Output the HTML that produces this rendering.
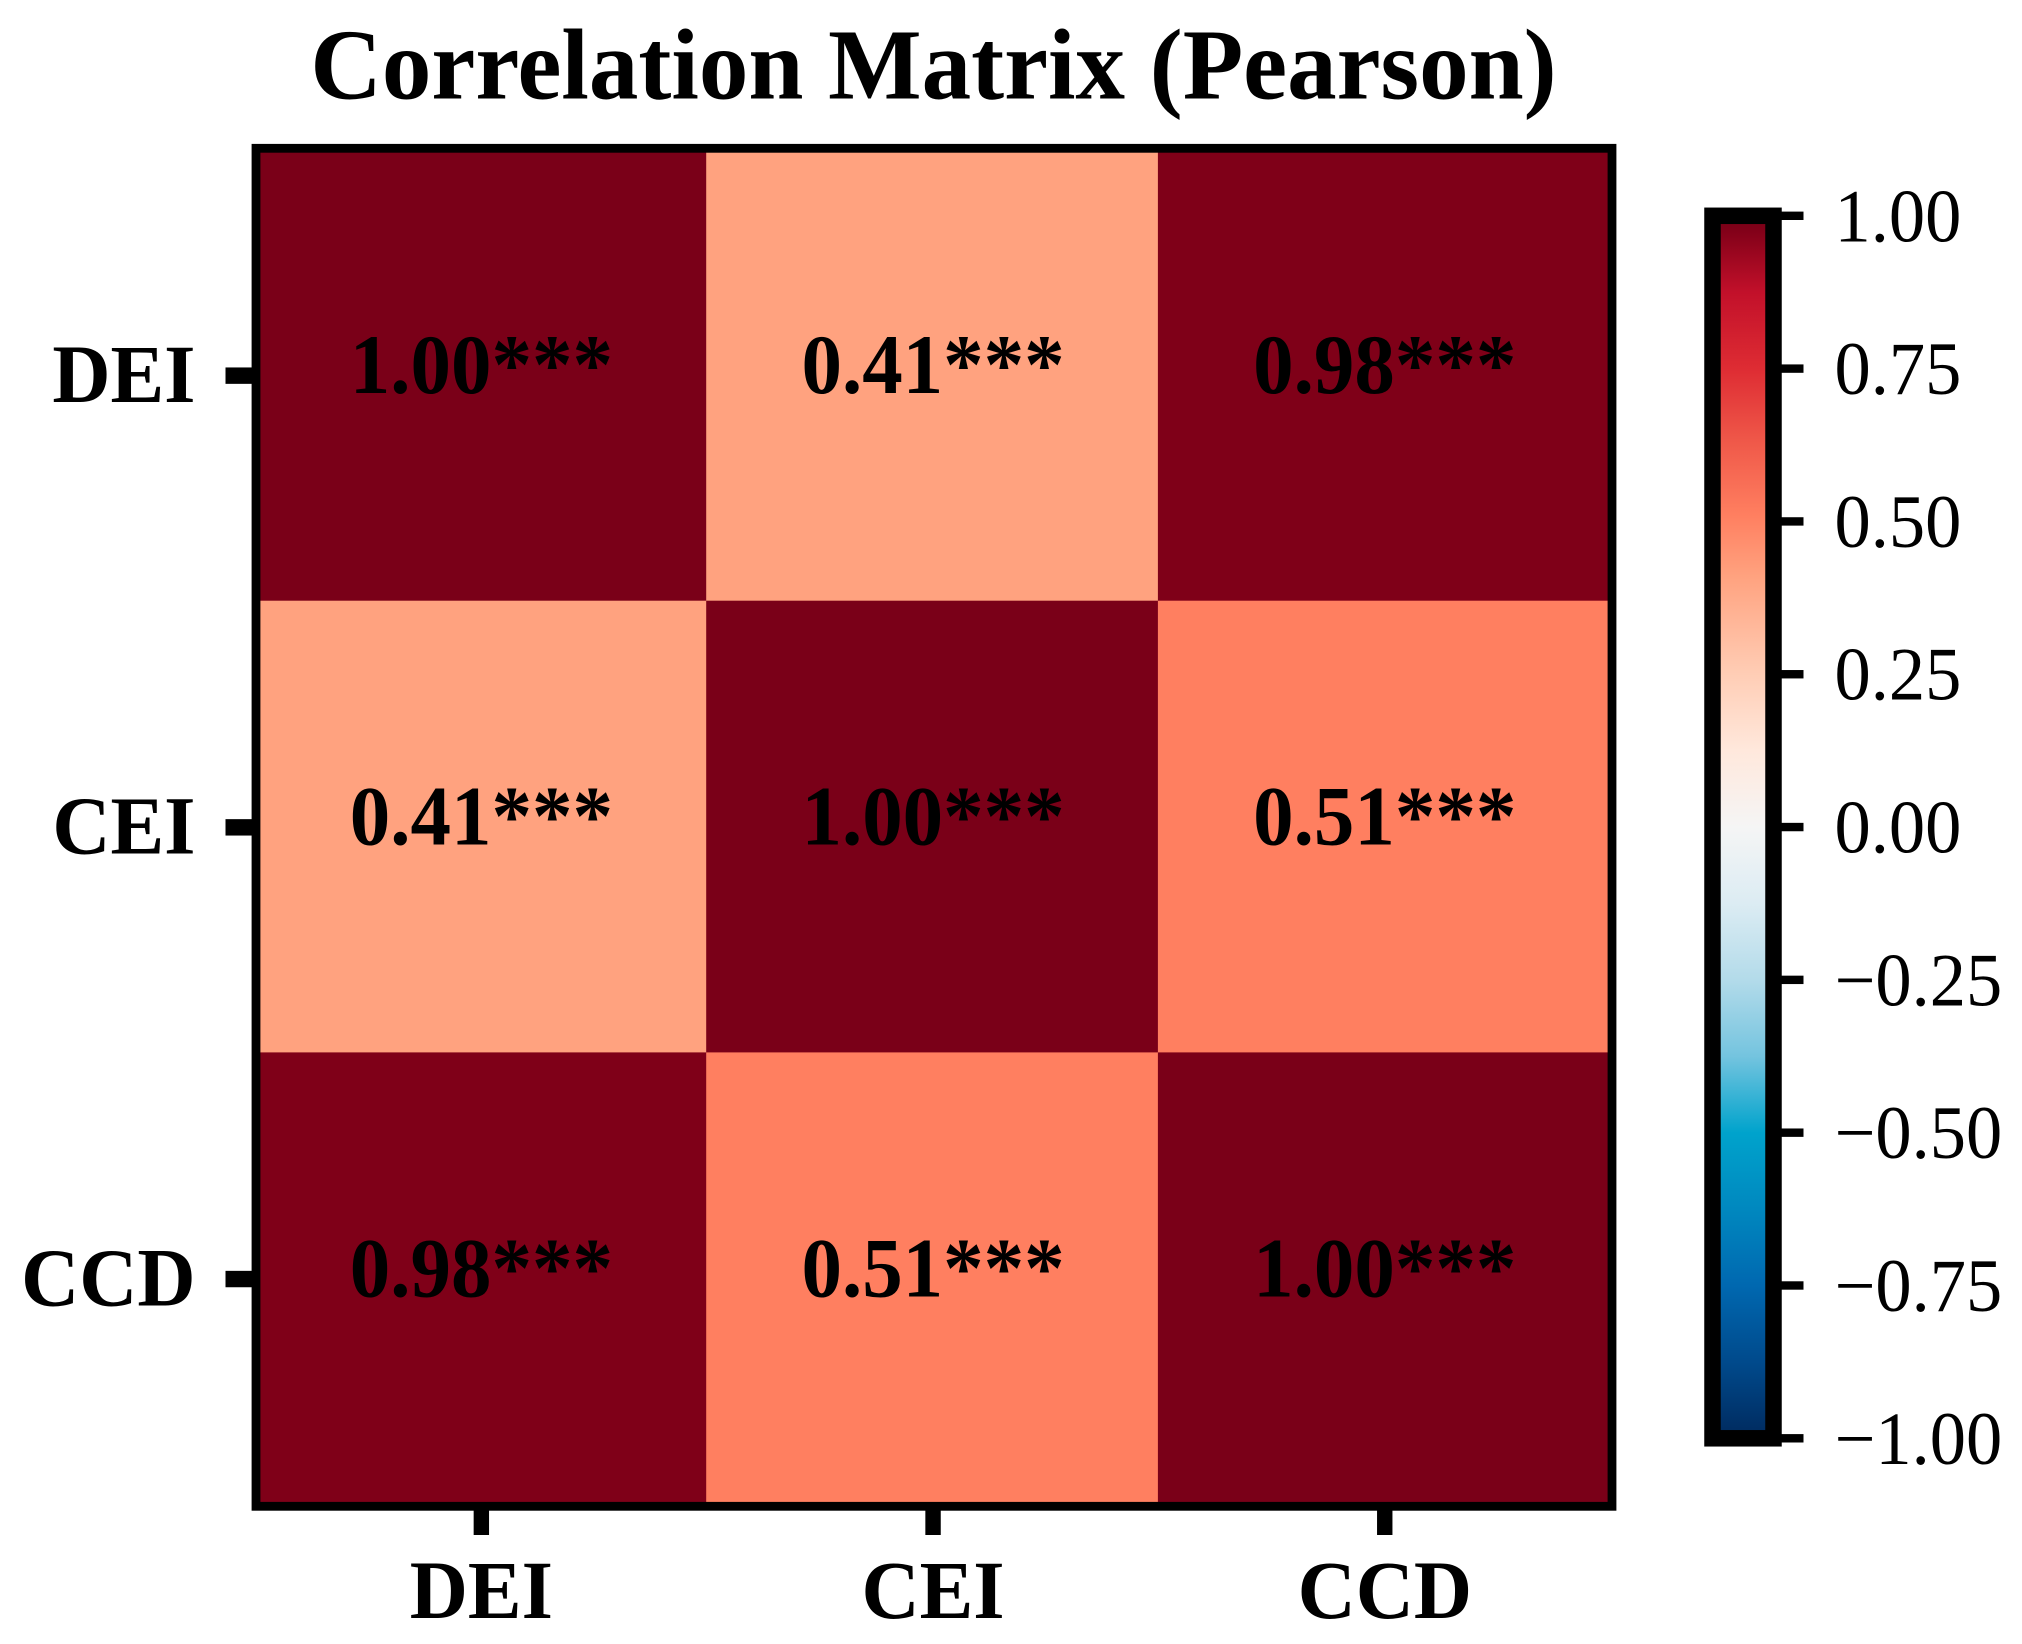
<!DOCTYPE html>
<html lang="en">
<head>
<meta charset="utf-8">
<title>Correlation Matrix (Pearson)</title>
<style>
html,body{margin:0;padding:0;background:#fff;width:2022px;height:1644px;overflow:hidden}
svg{display:block}
text{font-family:"Liberation Serif","Times New Roman",serif;fill:#000}
</style>
</head>
<body>
<svg id="chart" xmlns="http://www.w3.org/2000/svg" width="2022" height="1644" viewBox="0 0 2022 1644">
  <text transform="translate(933.5 98.5) scale(1 1.02)" text-anchor="middle" font-size="99" font-weight="700">Correlation Matrix (Pearson)</text>
</svg>
<script>
const categories = ["DEI", "CEI", "CCD"];
const rowDEI = [1.00, 0.41, 0.98];
const rowCEI = [0.41, 1.00, 0.51];
const rowCCD = [0.98, 0.51, 1.00];
const significance = "***";
const colorbarTicks = [1.00, 0.75, 0.50, 0.25, 0.00, -0.25, -0.50, -0.75, -1.00];
const colorbarTickLabels = ["1.00", "0.75", "0.50", "0.25", "0.00", "\u22120.25", "\u22120.50", "\u22120.75", "\u22121.00"];
const colormapValues = [-1, -0.875, -0.75, -0.625, -0.5, -0.375, -0.25, -0.125, 0, 0.125, 0.25, 0.41, 0.51, 0.625, 0.75, 0.875, 0.98, 1];
const colormapColors = ["#002a5e", "#004a8c", "#0068b0", "#0088bf", "#00a3cc", "#74c4df", "#b3dbea", "#dcecf3", "#f5f5f5", "#ffe8dc", "#ffcdb5", "#ffa27f", "#ff7f60", "#f05a4a", "#de2c33", "#c2102a", "#7f0018", "#7a0018"];

const rows = [rowDEI, rowCEI, rowCCD];
const NS = "http://www.w3.org/2000/svg";
const svg = document.getElementById("chart");

const plot = {left: 254.5, top: 149, step: 451.7};
const xCell = i => plot.left + i * plot.step;
const yCell = i => plot.top + i * plot.step;
const bar = {x: 1712.5, w: 61, yTop: 215.8, yBottom: 1438.3};
const yBar = v => bar.yBottom - (v + 1) / 2 * (bar.yBottom - bar.yTop);
const stretched = (x, y, sy) => "translate(" + x + " " + y + ") scale(1 " + sy + ")";

function hexToRgb(h) {
  return [1, 3, 5].map(p => parseInt(h.slice(p, p + 2), 16));
}
function colormap(v) {
  for (let i = 1; i < colormapValues.length; i++) {
    if (v <= colormapValues[i]) {
      const t = (v - colormapValues[i - 1]) / (colormapValues[i] - colormapValues[i - 1]);
      const a = hexToRgb(colormapColors[i - 1]);
      const b = hexToRgb(colormapColors[i]);
      return "rgb(" + a.map((c, k) => Math.round(c + (b[k] - c) * t)).join(",") + ")";
    }
  }
  return colormapColors[colormapColors.length - 1];
}
function make(tag, attrs, parent, content) {
  const el = document.createElementNS(NS, tag);
  for (const k in attrs) el.setAttribute(k, attrs[k]);
  if (content !== undefined) el.textContent = content;
  (parent || svg).appendChild(el);
  return el;
}

// heatmap cells
rows.forEach((row, r) => {
  row.forEach((value, c) => {
    const cell = make("rect", {x: xCell(c), y: yCell(r), width: plot.step + 0.4, height: plot.step + 0.4, fill: colormap(value)});
    
    
  });
});

// cell annotations
rows.forEach((row, r) => {
  row.forEach((value, c) => {
    const label = make("text", {transform: stretched(xCell(c) + plot.step / 2 + 1, yCell(r) + plot.step / 2 + 18, 1.05), "text-anchor": "middle", "font-size": 81, "font-weight": 700}, svg, value.toFixed(2) + significance);
    
    
  });
});

// heatmap frame
const frame = make("rect", {x: 256, y: 148.3, width: 1356, height: 1358, fill: "none", stroke: "#000", "stroke-width": 8.8});



// category axes
categories.forEach((name, i) => {
  const yTick = make("rect", {x: 225.5, y: yCell(i) + plot.step / 2 - 7.4, width: 27, height: 16.4, fill: "#000"});
  
  

  const yLabel = make("text", {transform: stretched(195.5, yCell(i) + plot.step / 2 + 27, 1.03), "text-anchor": "end", "font-size": 80.5, "font-weight": 700}, svg, name);
  
  

  const xTick = make("rect", {x: xCell(i) + plot.step / 2 - 6.7, y: 1509, width: 15.4, height: 26, fill: "#000"});
  
  

  const xLabel = make("text", {transform: stretched(xCell(i) + plot.step / 2 + 1, 1618, 1.03), "text-anchor": "middle", "font-size": 80.5, "font-weight": 700}, svg, name);
  
  
});

// colorbar
const defs = make("defs", {});
const gradient = make("linearGradient", {id: "barFill", x1: 0, y1: 1, x2: 0, y2: 0}, defs);
colormapValues.forEach((v, i) => {
  make("stop", {offset: (v + 1) / 2, "stop-color": colormapColors[i]}, gradient);
});
const colorbarFill = make("rect", {x: bar.x, y: bar.yTop, width: bar.w, height: bar.yBottom - bar.yTop, fill: "url(#barFill)"});


const colorbarFrame = make("rect", {x: bar.x, y: bar.yTop, width: bar.w, height: bar.yBottom - bar.yTop, fill: "none", stroke: "#000", "stroke-width": 16.5});



colorbarTicks.forEach((v, i) => {
  const tick = make("rect", {x: 1780, y: yBar(v) - 4.2, width: 23.5, height: 8.4, fill: "#000"});
  
  

  const label = make("text", {transform: stretched(1834.5, yBar(v) + 25.5, 1.04), "font-size": 72.5}, svg, colorbarTickLabels[i]);
  
  
});
</script>
</body>
</html>
